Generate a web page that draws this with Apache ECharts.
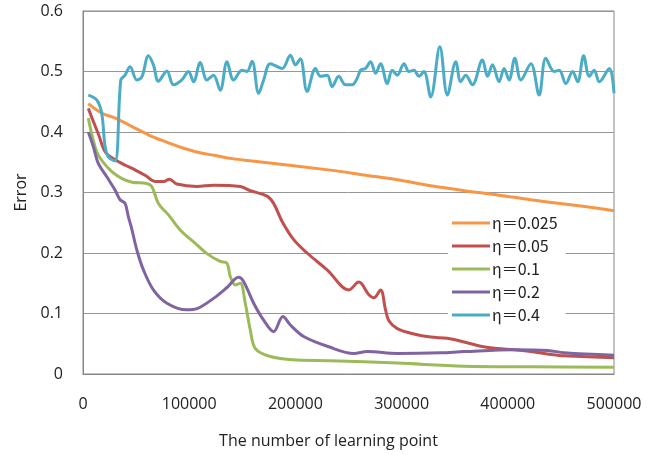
<!DOCTYPE html>
<html>
<head>
<meta charset="utf-8">
<script src="https://cdn.jsdelivr.net/npm/echarts@6/dist/echarts.min.js"></script>
<style>
  html, body { margin: 0; padding: 0; background: #fff; }
  #chart { width: 658px; height: 455px; }
</style>
</head>
<body>
<div id="chart"></div>
<script>
// 图例名称
const seriesNames = ['η＝0.025', 'η＝0.05', 'η＝0.1', 'η＝0.2', 'η＝0.4']
const seriesColors = ['#F79646', '#C0504D', '#9BBB59', '#8064A2', '#4BACC6']
const xTicks = [0, 100000, 200000, 300000, 400000, 500000]
const yTicks = [0, 0.1, 0.2, 0.3, 0.4, 0.5, 0.6]

// η=0.025
const eta0025 = [
  [5000, 0.447], [17900, 0.431], [30500, 0.423], [46200, 0.409], [62000, 0.395],
  [77600, 0.384], [93400, 0.374], [109100, 0.366], [124800, 0.361], [140600, 0.356],
  [159400, 0.352], [233000, 0.337], [264400, 0.329], [296000, 0.321], [327400, 0.311],
  [358800, 0.303], [390300, 0.296], [421700, 0.288], [453100, 0.281], [484600, 0.274],
  [500000, 0.270]
]
// η=0.05
const eta005 = [
  [5000, 0.439], [8500, 0.423], [14800, 0.395], [21000, 0.367], [30500, 0.354],
  [39900, 0.345], [49300, 0.337], [58800, 0.328], [68200, 0.318], [76100, 0.318],
  [81400, 0.322], [88400, 0.314], [107300, 0.310], [122900, 0.312], [148100, 0.310],
  [157500, 0.303], [173300, 0.294], [179500, 0.282], [187500, 0.252], [198400, 0.222],
  [211000, 0.200], [229900, 0.172], [250300, 0.139], [259700, 0.152], [269200, 0.131],
  [273900, 0.126], [280200, 0.139], [284900, 0.106], [288000, 0.088], [296000, 0.075],
  [311600, 0.066], [327400, 0.061], [343100, 0.059], [358800, 0.053], [374500, 0.046],
  [390300, 0.042], [405900, 0.040], [421700, 0.037], [437500, 0.033], [453100, 0.030],
  [468900, 0.029], [500000, 0.027]
]
// η=0.1
const eta01 = [
  [5000, 0.423], [8500, 0.395], [13000, 0.367], [18500, 0.351], [27400, 0.334],
  [36800, 0.323], [46200, 0.317], [60100, 0.315], [64800, 0.310], [71000, 0.282],
  [80500, 0.263], [91500, 0.238], [105700, 0.216], [116700, 0.199], [129200, 0.186],
  [135600, 0.183], [138700, 0.161], [143400, 0.147], [148100, 0.150], [152800, 0.117],
  [157500, 0.073], [162300, 0.042], [176400, 0.029], [201600, 0.023], [233000, 0.022],
  [296000, 0.018], [358800, 0.013], [421700, 0.012], [500000, 0.011]
]
// η=0.2
const eta02 = [
  [5000, 0.400], [9700, 0.376], [14400, 0.348], [22400, 0.326], [30200, 0.304],
  [34900, 0.288], [39600, 0.282], [42700, 0.260], [45900, 0.240], [50700, 0.205],
  [56900, 0.172], [66300, 0.139], [79000, 0.117], [97800, 0.106], [107300, 0.108],
  [122900, 0.125], [135600, 0.143], [146500, 0.160], [151200, 0.153], [160700, 0.117],
  [170100, 0.089], [179500, 0.070], [188200, 0.095], [195300, 0.081], [207800, 0.062],
  [231400, 0.045], [255000, 0.034], [267600, 0.037], [296000, 0.034], [336800, 0.035],
  [358800, 0.037], [405900, 0.040], [437500, 0.039], [453100, 0.035], [500000, 0.031]
]
// η=0.4
const eta04 = [
  [5000, 0.461], [12900, 0.453], [17600, 0.431], [20800, 0.376], [23900, 0.359],
  [30200, 0.352], [35600, 0.486], [39600, 0.494], [44300, 0.508], [50700, 0.486],
  [55400, 0.491], [61600, 0.526], [66300, 0.511], [71000, 0.484], [79000, 0.501],
  [85200, 0.478], [93100, 0.486], [99300, 0.500], [104100, 0.483], [110400, 0.515],
  [116700, 0.486], [122900, 0.494], [129200, 0.469], [135600, 0.516], [141800, 0.486],
  [149700, 0.502], [154400, 0.500], [159200, 0.517], [165400, 0.464], [170100, 0.486],
  [176400, 0.513], [187500, 0.505], [195300, 0.527], [200000, 0.511], [204700, 0.521],
  [211000, 0.467], [218900, 0.505], [223600, 0.492], [229900, 0.494], [234600, 0.475],
  [240800, 0.492], [247200, 0.478], [253500, 0.478], [258200, 0.489], [261300, 0.502],
  [266000, 0.505], [270800, 0.516], [275500, 0.497], [280200, 0.513], [286500, 0.480],
  [291200, 0.502], [295900, 0.494], [302200, 0.513], [306900, 0.500], [311600, 0.502],
  [316300, 0.492], [321000, 0.500], [327400, 0.458], [336000, 0.541], [343100, 0.461],
  [351000, 0.516], [355700, 0.483], [360400, 0.494], [366700, 0.478], [376100, 0.519],
  [380900, 0.492], [385600, 0.511], [391800, 0.483], [396500, 0.505], [401200, 0.486],
  [406600, 0.522], [412300, 0.486], [421700, 0.513], [429500, 0.461], [435800, 0.522],
  [443700, 0.500], [448400, 0.502], [454700, 0.480], [461000, 0.500], [465800, 0.483],
  [471400, 0.526], [476700, 0.492], [481400, 0.502], [486100, 0.483], [495600, 0.505],
  [500000, 0.464]
]
const seriesData = [eta0025, eta005, eta01, eta02, eta04]

const font = '"Open Sans", "Noto Sans CJK SC", sans-serif'
const chart = echarts.init(document.getElementById('chart'))
chart.setOption({
  animation: false,
  backgroundColor: '#fff',
  grid: {
    left: 83, right: 44, top: 11, bottom: 81,
    show: true, borderColor: '#868686', borderWidth: 1
  },
  legend: {
    orient: 'vertical',
    left: 448, top: 211,
    backgroundColor: '#fff',
    padding: [4, 8, 4, 4],
    icon: 'rect',
    itemWidth: 38, itemHeight: 3,
    itemGap: 7,
    data: seriesNames,
    textStyle: { fontFamily: '"Noto Sans CJK JP", sans-serif', fontSize: 16, color: '#222', lineHeight: 16, padding: [0, 0, 0, -3] }
  },
  xAxis: {
    type: 'value',
    min: xTicks[0], max: xTicks[xTicks.length - 1], interval: xTicks[1] - xTicks[0],
    name: 'The number of learning point',
    nameLocation: 'middle', nameGap: 59,
    nameTextStyle: { fontFamily: font, fontSize: 16, color: '#222', padding: [0, 40, 0, 0] },
    axisLine: { show: true, lineStyle: { color: '#868686' } },
    axisTick: { show: false },
    splitLine: { show: false },
    axisLabel: { margin: 22, fontFamily: font, fontSize: 16, color: '#222', formatter: v => String(v) }
  },
  yAxis: {
    type: 'value',
    min: yTicks[0], max: yTicks[yTicks.length - 1], interval: 0.1,
    name: 'Error',
    nameLocation: 'middle', nameGap: 54,
    nameTextStyle: { fontFamily: font, fontSize: 16, color: '#222' },
    axisLine: { show: true, lineStyle: { color: '#868686' } },
    axisTick: { show: false },
    splitLine: { lineStyle: { color: '#969696', width: 1 } },
    axisLabel: {
      margin: 20, fontFamily: font, fontSize: 16, color: '#222',
      formatter: v => String(Math.round(v * 10) / 10)
    }
  },
  series: seriesNames.map((name, i) => ({
    name,
    type: 'line',
    data: seriesData[i],
    smooth: 0.35,
    symbol: 'none',
    itemStyle: { color: seriesColors[i] },
    lineStyle: { color: seriesColors[i], width: 3 }
  }))
})
</script>
</body>
</html>
